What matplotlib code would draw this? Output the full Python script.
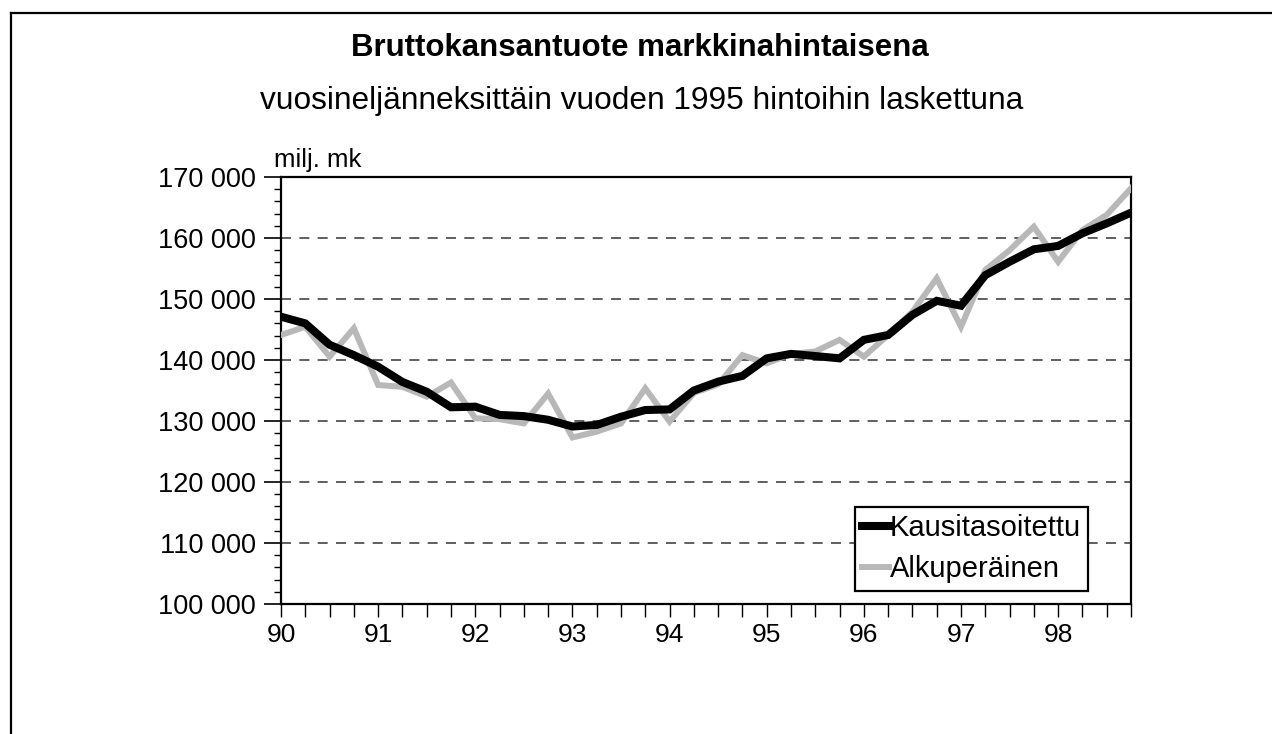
import numpy as np
import matplotlib
matplotlib.use("Agg")
import matplotlib.pyplot as plt
from matplotlib.lines import Line2D
from matplotlib.ticker import FuncFormatter, MultipleLocator

# quarterly GDP, 1990Q1 .. 1998Q4, milj. mk (1995 prices)
years = ["90", "91", "92", "93", "94", "95", "96", "97", "98"]
kausitasoitettu = [147100, 146000, 142500, 140800, 138900, 136400, 134800, 132250,
                   132350, 131000, 130800, 130200, 129100, 129350, 130700, 131800,
                   131900, 135000, 136450, 137400, 140270, 141000, 140650, 140270,
                   143300, 144100, 147400, 149700, 148900, 153900, 156100, 158150,
                   158700, 160770, 162400, 164150]
alkuperainen = [144100, 145450, 140550, 145200, 135900, 135600, 134000, 136300,
                130450, 130300, 129600, 134500, 127300, 128250, 129600, 135350,
                129900, 134600, 136000, 140800, 139450, 141000, 141400, 143300,
                140550, 144100, 147900, 153400, 145450, 154750, 158000, 161850,
                156100, 161300, 163800, 168150]

plt.rcParams["font.family"] = ["Liberation Sans", "DejaVu Sans"]

W, H = 1272, 734
fig = plt.figure(figsize=(W/100, H/100), dpi=100)
ax = fig.add_axes([281/W, 1-604/H, 850/W, 427/H])

q = np.arange(len(kausitasoitettu))
ax.plot(q, alkuperainen, color="#b8b8b8", lw=4.3, solid_joinstyle="miter",
        label="Alkuperäinen", zorder=3)
ax.plot(q, kausitasoitettu, color="black", lw=5.8, solid_joinstyle="miter",
        label="Kausitasoitettu", zorder=4)

ax.set_xlim(0, len(q) - 1)
ax.set_ylim(100000, 170000)
ax.yaxis.set_major_locator(MultipleLocator(10000))
ax.yaxis.set_minor_locator(MultipleLocator(2000))
ax.yaxis.set_major_formatter(FuncFormatter(lambda v, p: f"{int(v):,}".replace(",", " ")))
ax.set_xticks(np.arange(0, len(q), 4))
ax.set_xticklabels(years)
ax.set_xticks(q, minor=True)
ax.tick_params(axis="y", which="major", direction="out", length=12, width=1.2,
               labelsize=19.5, pad=6)
ax.tick_params(axis="y", which="minor", direction="out", length=5, width=1)
ax.tick_params(axis="x", which="both", direction="out", length=9, width=1, pad=5,
               labelsize=19)
ax.grid(axis="y", which="major", color="#444444", ls=(0, (6, 5)), lw=1.2)
for s in ax.spines.values():
    s.set_linewidth(1.6)

leg = ax.legend(handles=ax.get_lines()[::-1], loc="upper left",
                bbox_to_anchor=((855-281)/850, (604-507)/427), fontsize=21,
                handlelength=0.9, handletextpad=0.05, borderpad=0.25,
                labelspacing=0.45, borderaxespad=0, fancybox=False, framealpha=1,
                edgecolor="black")
leg.get_frame().set_linewidth(1.6)

fig.text(640/W, 1-48/H, "Bruttokansantuote markkinahintaisena", ha="center",
         va="center", fontsize=22.5, fontweight="bold")
fig.text(642/W, 1-101/H, "vuosineljänneksittäin vuoden 1995 hintoihin laskettuna",
         ha="center", va="center", fontsize=22.8)
fig.text(274/W, 1-160/H, "milj. mk", ha="left", va="center", fontsize=18.5)

# outer frame (left and top edges visible, runs off the page right and bottom)
fig.add_artist(Line2D([11/W, 11/W], [0, 1-13/H], color="black", lw=1.6))
fig.add_artist(Line2D([11/W, 1], [1-13/H, 1-13/H], color="black", lw=1.6))

fig.savefig("out.png", dpi=100)
